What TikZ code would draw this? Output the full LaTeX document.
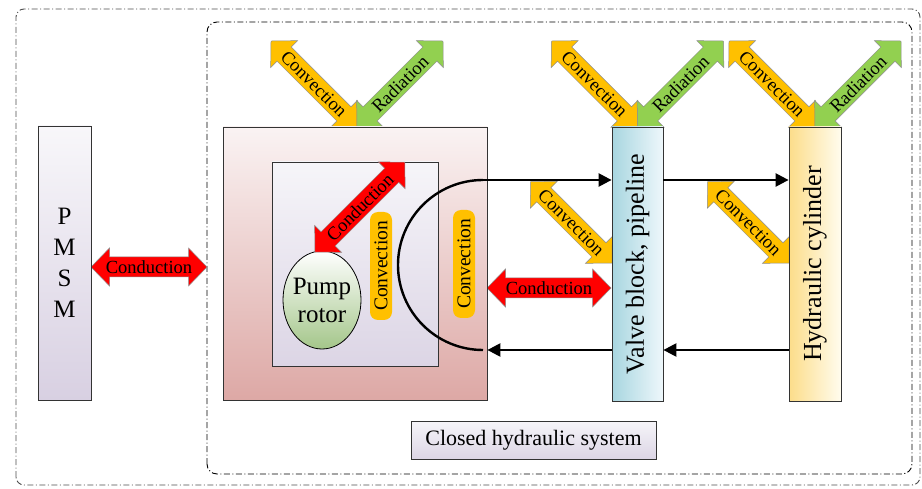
\documentclass[tikz,border=0pt]{standalone}
\usepackage{fontspec}
\setmainfont{Liberation Serif}
\usetikzlibrary{arrows.meta,shapes.geometric}
\definecolor{convcol}{HTML}{FFC000}
\definecolor{radcol}{HTML}{92D050}
\definecolor{condcol}{HTML}{FF0000}
\definecolor{pmsmtop}{HTML}{F8F7FA}
\definecolor{pmsmbot}{HTML}{D8D0E2}
\definecolor{pumptop}{HTML}{FAF3F3}
\definecolor{pumpbot}{HTML}{DDA8A5}
\definecolor{innertop}{HTML}{F6F5F9}
\definecolor{innerbot}{HTML}{DCD5E5}
\definecolor{rotorbot}{HTML}{A4C68A}
\definecolor{valveleft}{HTML}{A8D6E0}
\definecolor{valveright}{HTML}{EEF7FB}
\definecolor{hydleft}{HTML}{FCDD8A}
\definecolor{hydright}{HTML}{FFFCEE}
\newcommand{\FatArrow}[8]{%
  \begin{scope}[shift={(#1,#2)}, rotate=#3]
    \filldraw[fatline, fill=#5] (0,0) -- (18.5,19) -- (18.5,10) -- ({#4-18.5},10) -- ({#4-18.5},19) -- (#4,0) -- ({#4-18.5},-19) -- ({#4-18.5},-10) -- (18.5,-10) -- (18.5,-19) -- cycle;
    \node[arrowtext, rotate=#7] (#8) at ({#4/2},0) {#6};
  \end{scope}}
\tikzset{
  fatline/.style={draw=black!45, line width=0.5pt},
  arrowtext/.style={inner sep=0pt, font=\fontsize{18.5}{20}\selectfont},
  boxnode/.style={draw=black!80, line width=0.8pt, inner sep=0pt},
  bigtext/.style={font=\fontsize{26}{30}\selectfont},
  flow/.style={line width=2.4pt, -{Triangle[length=13pt,width=13pt]}},
  flowline/.style={line width=2.4pt},
  pill/.style={fill=convcol, rounded corners=8pt, minimum width=108pt, minimum height=22pt, inner sep=1pt, font=\fontsize{19.5}{20}\selectfont},
  frameline/.style={line width=0.9pt, dash pattern=on 6pt off 2.5pt on 1pt off 2.5pt},
}
\begin{document}
\begin{tikzpicture}[x=1pt, y=1pt]
\useasboundingbox (0,0) rectangle (922,488);
% frames
\draw[frameline, black!70, rounded corners=8pt] (16,3) rectangle (920,479);
\draw[frameline, black, rounded corners=10pt] (207,14) rectangle (912,466);
% fat arrows behind boxes
\FatArrow{91}{221}{0}{116}{condcol}{Conduction}{0}{cond1}
\FatArrow{487}{200}{0}{124}{condcol}{Conduction}{0}{cond2}
\FatArrow{357}{361}{135}{121.6}{convcol}{Convection}{-45}{convA}
\FatArrow{357}{361}{45}{121.6}{radcol}{Radiation}{45}{radA}
\FatArrow{637.5}{361}{135}{121.6}{convcol}{Convection}{-45}{convB}
\FatArrow{637.5}{361}{45}{121.6}{radcol}{Radiation}{45}{radB}
\FatArrow{815}{361}{135}{121.6}{convcol}{Convection}{-45}{convC}
\FatArrow{815}{361}{45}{121.6}{radcol}{Radiation}{45}{radC}
\FatArrow{612}{225}{135}{115}{convcol}{Convection}{-45}{convD}
\FatArrow{789}{225}{135}{115}{convcol}{Convection}{-45}{convE}
% boxes
\node[boxnode, top color=pmsmtop, bottom color=pmsmbot, minimum width=53pt, minimum height=274pt] (pmsm) at (64.5,225) {};
\node[align=center, font=\fontsize{25}{31}\selectfont] (pmsmtext) at (pmsm.center) {P\\M\\S\\M};
\node[boxnode, top color=pumptop, bottom color=pumpbot, minimum width=264pt, minimum height=273pt] (pump) at (355,224.5) {};
\node[boxnode, top color=innertop, bottom color=innerbot, minimum width=166pt, minimum height=204pt] (inner) at (355,224) {};
\node[draw=black, line width=0.8pt, ellipse, top color=white, bottom color=rotorbot, minimum width=78pt, minimum height=98pt, inner sep=0pt] (rotor) at (322,188) {};
\node[align=center, font=\fontsize{25}{28}\selectfont] (rotortext) at (rotor.center) {Pump\\rotor};
\node[boxnode, left color=valveleft, right color=valveright, minimum width=51pt, minimum height=274pt] (valve) at (637.5,224) {};
\node[bigtext, rotate=90] (valvetext) at (valve.center) {Valve block, pipeline};
\node[boxnode, left color=hydleft, right color=hydright, minimum width=52pt, minimum height=274pt] (hyd) at (815,224) {};
\node[bigtext, rotate=90] (hydtext) at (hyd.center) {Hydraulic cylinder};
\node[boxnode, top color=innertop, bottom color=innerbot, minimum width=245pt, minimum height=38pt, font=\fontsize{22}{26}\selectfont] (closed) at (533.5,48) {Closed hydraulic system};
% inner conduction arrow
\FatArrow{315}{236}{45}{127}{condcol}{Conduction}{45}{cond3}
% convection pills
\node[pill, rotate=90] (pill1) at (381,222) {Convection};
\node[pill, rotate=90] (pill2) at (464,224) {Convection};
% flow loop
\coordinate (ctop) at (483,308);
\coordinate (cbot) at (483,138);
\draw[flowline] (ctop) arc[start angle=90, end angle=270, radius=85];
\draw[flow] (ctop) -- (valve.west |- ctop);
\draw[flow] (valve.west |- cbot) -- (pump.east |- cbot);
\draw[flow] (valve.east |- ctop) -- (hyd.west |- ctop);
\draw[flow] (hyd.west |- cbot) -- (valve.east |- cbot);
\end{tikzpicture}
\end{document}
